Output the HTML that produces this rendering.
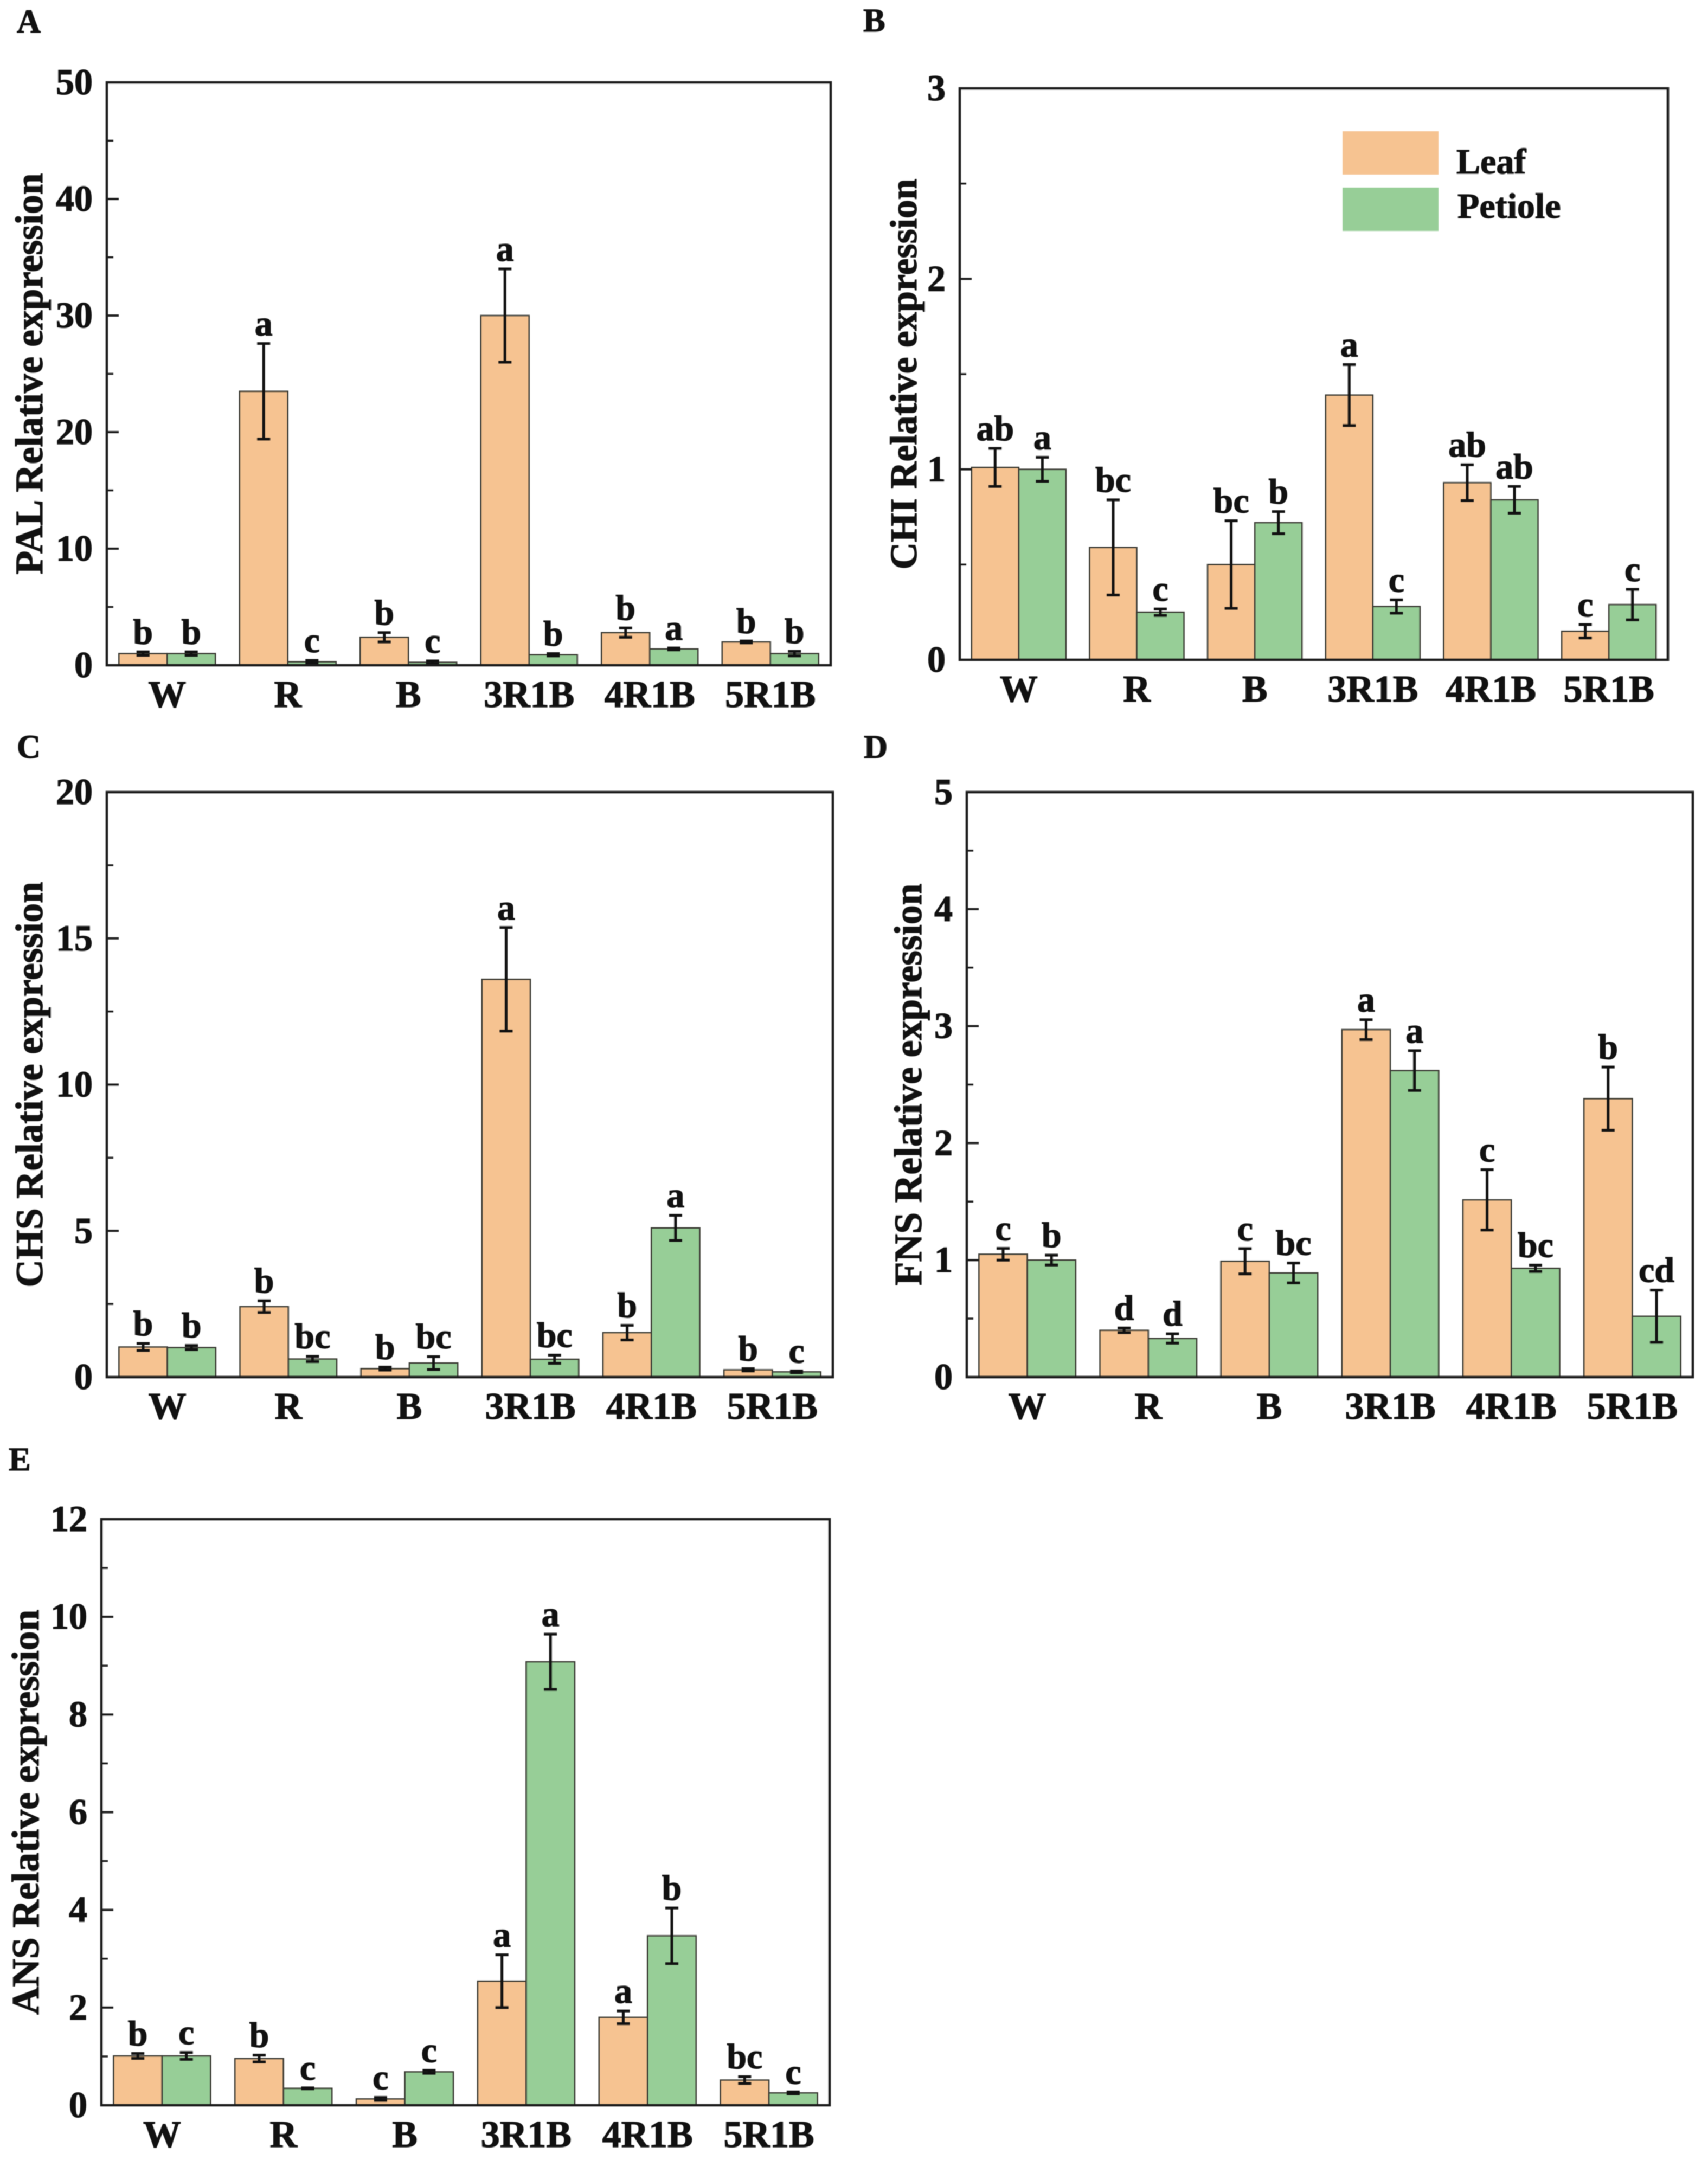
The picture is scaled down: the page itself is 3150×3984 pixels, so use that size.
<!DOCTYPE html>
<html lang="en">
<head>
<meta charset="utf-8">
<title>Relative expression bar charts</title>
<style>
  html, body { margin: 0; padding: 0; background: #fff; }
  svg { display: block; font-family: "Liberation Serif", "DejaVu Serif", serif; font-weight: bold; fill: #111; filter: blur(0.8px); }
  svg text { stroke: #111; stroke-width: 1.2px; }
</style>
</head>
<body>
<svg id="figure" xmlns="http://www.w3.org/2000/svg" width="3150" height="3984" viewBox="0 0 3150 3984">
  <rect x="0" y="0" width="3150" height="3984" fill="#ffffff"/>
  <text x="31" y="60" font-size="61">A</text>
  <text x="1592" y="58" font-size="61">B</text>
  <text x="31" y="1398" font-size="61">C</text>
  <text x="1593" y="1398" font-size="61">D</text>
  <text x="16" y="2712" font-size="61">E</text>
  <g id="panels"></g>
  <g>
    <rect x="2476" y="242" width="177" height="80" fill="#f6c391"/>
    <text x="2686" y="320" font-size="66">Leaf</text>
    <rect x="2476" y="346" width="177" height="80" fill="#97ce97"/>
    <text x="2688" y="402" font-size="66">Petiole</text>
  </g>
</svg>
<script>
const categories = ['W', 'R', 'B', '3R1B', '4R1B', '5R1B'];

const palTicks = [0, 10, 20, 30, 40, 50];
const palLeaf = [1.0, 23.5, 2.4, 30.0, 2.8, 2.0];
const palLeafErr = [0.15, 4.1, 0.4, 4.0, 0.4, 0.08];
const palPetiole = [1.0, 0.3, 0.25, 0.9, 1.4, 1.0];
const palPetioleErr = [0.15, 0.12, 0.12, 0.1, 0.08, 0.2];
const palLeafLetters = ['b', 'a', 'b', 'a', 'b', 'b'];
const palPetioleLetters = ['b', 'c', 'c', 'b', 'a', 'b'];

const chiTicks = [0, 1, 2, 3];
const chiLeaf = [1.01, 0.59, 0.50, 1.39, 0.93, 0.15];
const chiLeafErr = [0.10, 0.25, 0.23, 0.16, 0.094, 0.035];
const chiPetiole = [1.0, 0.25, 0.72, 0.28, 0.84, 0.29];
const chiPetioleErr = [0.063, 0.017, 0.058, 0.035, 0.07, 0.08];
const chiLeafLetters = ['ab', 'bc', 'bc', 'a', 'ab', 'c'];
const chiPetioleLetters = ['a', 'c', 'b', 'c', 'ab', 'c'];

const chsTicks = [0, 5, 10, 15, 20];
const chsLeaf = [1.03, 2.41, 0.29, 13.6, 1.52, 0.25];
const chsLeafErr = [0.12, 0.2, 0.05, 1.77, 0.25, 0.04];
const chsPetiole = [1.01, 0.62, 0.48, 0.61, 5.1, 0.18];
const chsPetioleErr = [0.07, 0.09, 0.22, 0.14, 0.43, 0.03];
const chsLeafLetters = ['b', 'b', 'b', 'a', 'b', 'b'];
const chsPetioleLetters = ['b', 'bc', 'bc', 'bc', 'a', 'c'];

const fnsTicks = [0, 1, 2, 3, 4, 5];
const fnsLeaf = [1.05, 0.40, 0.99, 2.97, 1.515, 2.38];
const fnsLeafErr = [0.05, 0.02, 0.108, 0.085, 0.258, 0.27];
const fnsPetiole = [1.0, 0.33, 0.89, 2.62, 0.93, 0.52];
const fnsPetioleErr = [0.042, 0.04, 0.085, 0.17, 0.027, 0.223];
const fnsLeafLetters = ['c', 'd', 'c', 'a', 'c', 'b'];
const fnsPetioleLetters = ['b', 'd', 'bc', 'a', 'bc', 'cd'];

const ansTicks = [0, 2, 4, 6, 8, 10, 12];
const ansLeaf = [1.01, 0.956, 0.13, 2.54, 1.8, 0.516];
const ansLeafErr = [0.05, 0.07, 0.03, 0.54, 0.13, 0.07];
const ansPetiole = [1.01, 0.347, 0.684, 9.08, 3.47, 0.253];
const ansPetioleErr = [0.07, 0.01, 0.03, 0.565, 0.57, 0.02];
const ansLeafLetters = ['b', 'b', 'c', 'a', 'a', 'bc'];
const ansPetioleLetters = ['c', 'c', 'c', 'a', 'b', 'c'];

const panelConfigs = [
  { id: 'pal', title: 'PAL Relative expression', left: 197, right: 1532, top: 152, bottom: 1227, titleX: 78, titleSize: 71.5,
    ticks: palTicks, leaf: palLeaf, leafErr: palLeafErr, petiole: palPetiole, petioleErr: palPetioleErr,
    leafLetters: palLeafLetters, petioleLetters: palPetioleLetters },
  { id: 'chi', title: 'CHI Relative expression', left: 1770, right: 3076, top: 163, bottom: 1217, titleX: 1690, titleSize: 69.5,
    ticks: chiTicks, leaf: chiLeaf, leafErr: chiLeafErr, petiole: chiPetiole, petioleErr: chiPetioleErr,
    leafLetters: chiLeafLetters, petioleLetters: chiPetioleLetters },
  { id: 'chs', title: 'CHS Relative expression', left: 197, right: 1536, top: 1461, bottom: 2540, titleX: 78, titleSize: 71,
    ticks: chsTicks, leaf: chsLeaf, leafErr: chsLeafErr, petiole: chsPetiole, petioleErr: chsPetioleErr,
    leafLetters: chsLeafLetters, petioleLetters: chsPetioleLetters },
  { id: 'fns', title: 'FNS Relative expression', left: 1783, right: 3122, top: 1461, bottom: 2540, titleX: 1699, titleSize: 71.5,
    ticks: fnsTicks, leaf: fnsLeaf, leafErr: fnsLeafErr, petiole: fnsPetiole, petioleErr: fnsPetioleErr,
    leafLetters: fnsLeafLetters, petioleLetters: fnsPetioleLetters },
  { id: 'ans', title: 'ANS Relative expression', left: 187, right: 1530, top: 2802, bottom: 3883, titleX: 71, titleSize: 71.3,
    ticks: ansTicks, leaf: ansLeaf, leafErr: ansLeafErr, petiole: ansPetiole, petioleErr: ansPetioleErr,
    leafLetters: ansLeafLetters, petioleLetters: ansPetioleLetters }
];

const SVG_NS = 'http://www.w3.org/2000/svg';
const AXIS_COLOR = '#1c1c1c';
const BAR_EDGE = '#3a3a33';
const LEAF_FILL = '#f6c391';
const PETIOLE_FILL = '#97ce97';

function shape(parent, tag, attrs, name) {
  const el = document.createElementNS(SVG_NS, tag);
  for (const k in attrs) el.setAttribute(k, attrs[k]);
  
  
  parent.appendChild(el);
  return el;
}

function drawSeries(g, cfg, xScale, yScale, band, barW, values, errs, letters, fill, seriesName, side) {
  values.forEach(function (v, i) {
    const cat = categories[i].toLowerCase();
    const x = xScale(i) + (side < 0 ? -barW : 0);
    const cx = x + barW / 2;
    shape(g, 'rect', {
      x: x, y: yScale(v), width: barW, height: yScale(0) - yScale(v),
      fill: fill, stroke: BAR_EDGE, 'stroke-width': 2.5
    }, cfg.id + '-bar-' + seriesName + '-' + cat);
    const hi = yScale(v + errs[i]);
    const lo = yScale(v - errs[i]);
    const eb = { stroke: '#111', 'stroke-width': 5 };
    shape(g, 'line', Object.assign({ x1: cx, x2: cx, y1: hi, y2: lo }, eb), cfg.id + '-error-stem-' + seriesName + '-' + cat);
    shape(g, 'line', Object.assign({ x1: cx - 12, x2: cx + 12, y1: hi, y2: hi }, eb), cfg.id + '-error-cap-top-' + seriesName + '-' + cat);
    shape(g, 'line', Object.assign({ x1: cx - 12, x2: cx + 12, y1: lo, y2: lo }, eb), cfg.id + '-error-cap-bottom-' + seriesName + '-' + cat);
    const t = shape(g, 'text', {
      x: cx, y: hi - 15, 'text-anchor': 'middle', 'font-size': 66
    }, cfg.id + '-significance-' + seriesName + '-' + cat);
    t.textContent = letters[i];
  });
}

function drawPanel(root, cfg) {
  const g = document.createElementNS(SVG_NS, 'g');
  
  
  root.appendChild(g);

  const maxTick = cfg.ticks[cfg.ticks.length - 1];
  const yScale = function (v) { return cfg.bottom - (v / maxTick) * (cfg.bottom - cfg.top); };
  const band = (cfg.right - cfg.left) / categories.length;
  const barW = band * 0.4;
  const xScale = function (i) { return cfg.left + band * (i + 0.5); };

  drawSeries(g, cfg, xScale, yScale, band, barW, cfg.leaf, cfg.leafErr, cfg.leafLetters, LEAF_FILL, 'leaf', -1);
  drawSeries(g, cfg, xScale, yScale, band, barW, cfg.petiole, cfg.petioleErr, cfg.petioleLetters, PETIOLE_FILL, 'petiole', 1);

  shape(g, 'rect', {
    x: cfg.left, y: cfg.top, width: cfg.right - cfg.left, height: cfg.bottom - cfg.top,
    fill: 'none', stroke: AXIS_COLOR, 'stroke-width': 4.5
  }, cfg.id + '-plot-frame');

  cfg.ticks.forEach(function (tick, i) {
    const y = yScale(tick);
    if (i > 0 && i < cfg.ticks.length - 1) {
      shape(g, 'line', { x1: cfg.left, x2: cfg.left + 22, y1: y, y2: y, stroke: AXIS_COLOR, 'stroke-width': 4 }, cfg.id + '-major-tick-' + tick);
    }
    if (i > 0) {
      const my = yScale((tick + cfg.ticks[i - 1]) / 2);
      shape(g, 'line', { x1: cfg.left, x2: cfg.left + 12, y1: my, y2: my, stroke: AXIS_COLOR, 'stroke-width': 3.5 }, cfg.id + '-minor-tick-' + i);
    }
    const lab = shape(g, 'text', {
      x: cfg.left - 26, y: y + 22, 'text-anchor': 'end', 'font-size': 68
    }, cfg.id + '-y-tick-label-' + tick);
    lab.textContent = String(tick);
  });

  categories.forEach(function (c, i) {
    const lab = shape(g, 'text', {
      x: xScale(i), y: cfg.bottom + 77, 'text-anchor': 'middle', 'font-size': 70
    }, cfg.id + '-x-tick-label-' + c.toLowerCase());
    lab.textContent = c;
  });

  const midY = (cfg.top + cfg.bottom) / 2;
  const title = shape(g, 'text', {
    x: cfg.titleX, y: midY, 'text-anchor': 'middle', 'font-size': cfg.titleSize,
    transform: 'rotate(-90 ' + cfg.titleX + ' ' + midY + ')'
  }, cfg.id + '-y-axis-title');
  title.textContent = cfg.title;
}

const panelsRoot = document.getElementById('panels');
panelConfigs.forEach(function (cfg) { drawPanel(panelsRoot, cfg); });
</script>
</body>
</html>
